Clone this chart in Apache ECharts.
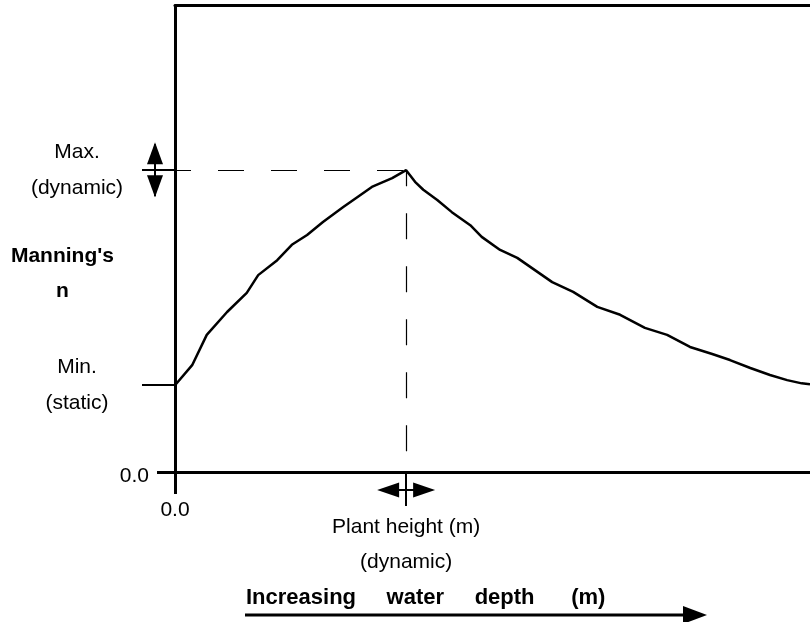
<!DOCTYPE html>
<html>
<head>
<meta charset="utf-8">
<script src="https://cdn.jsdelivr.net/npm/echarts@6/dist/echarts.min.js"></script>
<style>html,body{margin:0;padding:0;background:#fff;}#c{width:810px;height:622px;}</style>
</head>
<body>
<div id="c"></div>
<script>
// Water depth (arbitrary units, 0..10) and Manning's n (arbitrary units, 0..10)
const depth = [0, 0.27, 0.50, 0.82, 1.13, 1.31, 1.61, 1.84, 2.08, 2.33, 2.65, 2.87, 3.10, 3.42, 3.64,
  3.78, 3.91, 4.13, 4.36, 4.65, 4.83, 5.12, 5.39, 5.94, 6.27, 6.65, 7.01, 7.40, 7.75, 8.11, 8.46, 8.74, 9.06, 9.37, 9.64, 9.87, 10];
const manningN = [1.86, 2.29, 2.94, 3.43, 3.84, 4.22, 4.54, 4.87, 5.08, 5.36, 5.68, 5.89, 6.11, 6.30, 6.47,
  6.22, 6.05, 5.83, 5.57, 5.29, 5.04, 4.76, 4.59, 4.07, 3.86, 3.54, 3.37, 3.09, 2.94, 2.68, 2.53, 2.40, 2.23, 2.08, 1.97, 1.90, 1.88];
const minN = 1.86;       // Min. (static)
const maxN = 6.47;       // Max. (dynamic)
const plantHeight = 3.64;
const xMax = 10, yMax = 10;
const zeroLabel = '0.0';

const FONT = 'Liberation Sans';
const chart = echarts.init(document.getElementById('c'));
const txt = {color: '#000', fontFamily: FONT, fontSize: 21};

chart.setOption({
  animation: false,
  backgroundColor: '#fff',
  grid: {left: 175, right: 0, top: 5.5, bottom: 150, containLabel: false},
  xAxis: [
    {type: 'value', min: 0, max: xMax, position: 'bottom',
     axisLine: {show: true, onZero: false, lineStyle: {color: '#000', width: 3}},
     axisTick: {show: true, customValues: [0], length: 22, lineStyle: {color: '#000', width: 3}},
     axisLabel: {show: true, customValues: [0], formatter: () => zeroLabel, margin: 28, ...txt},
     splitLine: {show: false}},
    {type: 'value', min: 0, max: xMax, position: 'bottom',
     axisLine: {show: false, onZero: false},
     axisTick: {show: true, customValues: [plantHeight], length: 34, lineStyle: {color: '#000', width: 2}},
     axisLabel: {show: true, customValues: [plantHeight], formatter: () => 'Plant height (m)\n(dynamic)',
       margin: 38, lineHeight: 35, align: 'center', ...txt},
     splitLine: {show: false}},
    {type: 'value', min: 0, max: xMax, position: 'top',
     axisLine: {show: true, onZero: false, lineStyle: {color: '#000', width: 3}},
     axisTick: {show: false}, axisLabel: {show: false}, splitLine: {show: false}}
  ],
  yAxis: [
    {type: 'value', min: 0, max: yMax, position: 'left',
     axisLine: {show: true, onZero: false, lineStyle: {color: '#000', width: 3}},
     axisTick: {show: true, customValues: [0], length: 18, lineStyle: {color: '#000', width: 3}},
     axisLabel: {show: true, customValues: [0], formatter: () => zeroLabel, margin: 26,
       verticalAlign: 'top', lineHeight: 8, ...txt},
     splitLine: {show: false},
     name: "Manning's\nn", nameLocation: 'middle', nameRotate: 0, nameGap: 93,
     nameTextStyle: {color: '#000', fontFamily: FONT, fontSize: 21, fontWeight: 'bold', lineHeight: 35,
       align: 'center', verticalAlign: 'top'}},
    {type: 'value', min: 0, max: yMax, position: 'left',
     axisLine: {show: false, onZero: false},
     axisTick: {show: true, customValues: [minN, maxN], length: 33, lineStyle: {color: '#000', width: 2}},
     axisLabel: {show: true, customValues: [minN, maxN],
       formatter: v => (v === maxN ? 'Max.\n(dynamic)' : 'Min.\n(static)'),
       margin: 98, align: 'center', lineHeight: 36, ...txt},
     splitLine: {show: false}}
  ],
  graphic: [
    {type: 'text', left: 246, top: 587,
     style: {text: 'Increasing     water     depth      (m)', font: 'bold 22px "Liberation Sans"', fill: '#000'}},
    {type: 'line', shape: {x1: 245, y1: 615, x2: 690, y2: 615}, style: {stroke: '#000', lineWidth: 3}},
    {type: 'polygon', shape: {points: [[683, 606], [707, 615], [683, 624]]}, style: {fill: '#000'}}
  ],
  series: [{
    type: 'line',
    data: depth.map((d, i) => [d, manningN[i]]),
    showSymbol: false, symbol: 'none', clip: false,
    lineStyle: {color: '#000', width: 2.5},
    markLine: {
      silent: true, symbol: 'none', label: {show: false},
      lineStyle: {color: '#000', width: 1.2, type: [26, 27], dashOffset: 10},
      data: [
        [{coord: [0, maxN]}, {coord: [plantHeight, maxN]}],
        [{coord: [plantHeight, maxN]}, {coord: [plantHeight, 0]}]
      ]
    },
    markPoint: {
      silent: true, label: {show: false}, itemStyle: {color: '#000'},
      data: [
        {coord: [0, maxN], symbol: 'triangle', symbolSize: [16, 22], symbolOffset: [-20, -17]},
        {coord: [0, maxN], symbol: 'triangle', symbolSize: [16, 22], symbolOffset: [-20, 16], symbolRotate: 180},
        {coord: [0, maxN], symbol: 'rect', symbolSize: [2, 52], symbolOffset: [-20, 0]},
        {coord: [plantHeight, 0], symbol: 'triangle', symbolSize: [15, 22], symbolOffset: [-18, 18], symbolRotate: 90},
        {coord: [plantHeight, 0], symbol: 'triangle', symbolSize: [15, 22], symbolOffset: [18, 18], symbolRotate: -90},
        {coord: [plantHeight, 0], symbol: 'rect', symbolSize: [52, 2], symbolOffset: [0, 18]}
      ]
    }
  }]
});
</script>
</body>
</html>
